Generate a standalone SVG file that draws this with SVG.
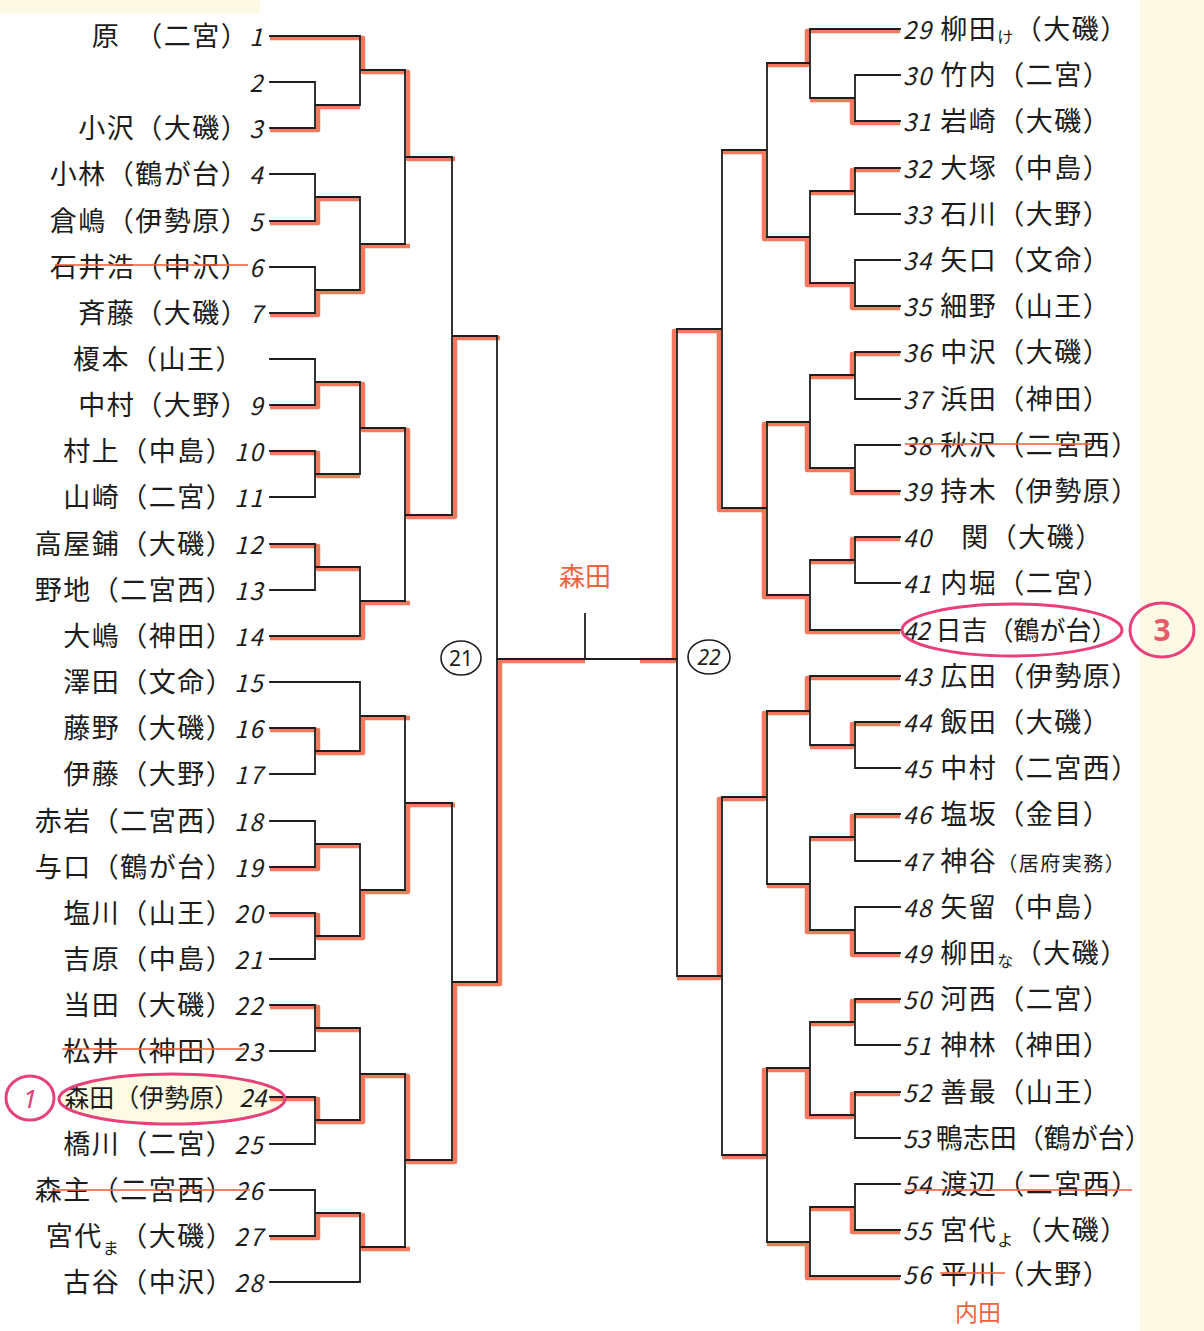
<svg xmlns="http://www.w3.org/2000/svg" width="1204" height="1331" viewBox="0 0 1204 1331">
<style>
.lb{font-family:"Noto Sans CJK JP","Noto Sans",sans-serif;font-size:27px;fill:#1c1c1c;letter-spacing:1.5px}
.le{text-anchor:end}
.n{font-style:italic;font-size:24px}
.sm{font-size:16px}
.blk{fill:none;stroke:#1e1e1e;stroke-width:1.8;stroke-linecap:square}
.red{fill:none;stroke:#f0623f;stroke-width:4.5;stroke-opacity:.85;stroke-linejoin:round}
.strike{stroke:#f0623f;stroke-width:2;stroke-opacity:.8}
.pink{fill:none;stroke:#e8407a;stroke-width:3}
.redtxt{font-family:"Noto Sans CJK JP","Noto Sans",sans-serif;fill:#f0623f}
</style>
<rect width="1204" height="1331" fill="#ffffff"/>
<rect x="1140" y="0" width="64" height="1331" fill="#fcf9e4"/>
<rect x="0" y="0" width="260" height="14" fill="#fcf9e4"/>

<ellipse cx="172" cy="1099" rx="113" ry="25" fill="#fdfbe3"/>

<g id="connectors">
<g id="red-paths">
<path class="red" d="M270,38 H363 V72 H408 V159 H455"/>
<path class="red" d="M270,130 H318 V107 H360"/>
<path class="red" d="M270,223 H318 V199 H360"/>
<path class="red" d="M270,315 H318 V292 H363 V246 H410"/>
<path class="red" d="M270,407 H318 V384 H363 V430 H408 V517 H455 V338 H500"/>
<path class="red" d="M270,453 H318 V476 H360"/>
<path class="red" d="M270,546 H318 V569 H360"/>
<path class="red" d="M270,638 H363 V603 H410"/>
<path class="red" d="M270,730 H318 V753 H363 V718 H410"/>
<path class="red" d="M270,869 H318 V846 H360"/>
<path class="red" d="M270,915 H318 V938 H363 V892 H408 V805 H455"/>
<path class="red" d="M270,1007 H318 V1030 H360"/>
<path class="red" d="M270,1099 H318 V1122 H363 V1076 H408 V1162 H455 V984 H500 V661 H585"/>
<path class="red" d="M270,1238 H318 V1215 H363 V1249 H410"/>

<path class="red" d="M900,31 H807 V65 H767"/>
<path class="red" d="M900,123 H852 V100 H810"/>
<path class="red" d="M900,170 H852 V193 H810"/>
<path class="red" d="M900,308 H852 V285 H807 V239 H764 V152 H722"/>
<path class="red" d="M900,354 H852 V377 H810"/>
<path class="red" d="M900,493 H852 V470 H807 V424 H764 V510"/>
<path class="red" d="M900,539 H852 V562 H810"/>
<path class="red" d="M900,632 H807 V597 H764 V510 H719 V331 H674 V661 H640"/>
<path class="red" d="M900,678 H807 V713 H764 V799 H719 V978 H677"/>
<path class="red" d="M900,724 H852 V747 H810"/>
<path class="red" d="M900,816 H852 V839 H810"/>
<path class="red" d="M900,955 H852 V932 H807 V886 H767"/>
<path class="red" d="M900,1001 H852 V1024 H810"/>
<path class="red" d="M900,1094 H852 V1117 H807 V1070 H764 V1157 H722"/>
<path class="red" d="M900,1232 H852 V1209 H810"/>
<path class="red" d="M900,1278 H807 V1244 H767"/>
</g>

<g id="left-bracket">
<path class="blk" d="M270,36 H360 M270,82 H315 M270,128 H315 M315,82 V128 M315,105 H360 M360,36 V105 M360,70 H405"/>
<path class="blk" d="M270,174 H315 M270,221 H315 M315,174 V221 M315,197 H360 M270,267 H315 M270,313 H315 M315,267 V313 M315,290 H360 M360,197 V290 M360,244 H405"/>
<path class="blk" d="M405,70 V244 M405,157 H452"/>
<path class="blk" d="M270,359 H315 M270,405 H315 M315,359 V405 M315,382 H360 M270,451 H315 M270,497 H315 M315,451 V497 M315,474 H360 M360,382 V474 M360,428 H405"/>
<path class="blk" d="M270,544 H315 M270,590 H315 M315,544 V590 M315,567 H360 M270,636 H360 M360,567 V636 M360,601 H405"/>
<path class="blk" d="M405,428 V601 M405,515 H452 M452,157 V515 M452,336 H497"/>
<path class="blk" d="M270,682 H360 M270,728 H315 M270,774 H315 M315,728 V774 M315,751 H360 M360,682 V751 M360,716 H405"/>
<path class="blk" d="M270,821 H315 M270,867 H315 M315,821 V867 M315,844 H360 M270,913 H315 M270,959 H315 M315,913 V959 M315,936 H360 M360,844 V936 M360,890 H405"/>
<path class="blk" d="M405,716 V890 M405,803 H452"/>
<path class="blk" d="M270,1005 H315 M270,1051 H315 M315,1005 V1051 M315,1028 H360 M270,1097 H315 M270,1144 H315 M315,1097 V1144 M315,1120 H360 M360,1028 V1120 M360,1074 H405"/>
<path class="blk" d="M270,1190 H315 M270,1236 H315 M315,1190 V1236 M315,1213 H360 M270,1282 H360 M360,1213 V1282 M360,1247 H405"/>
<path class="blk" d="M405,1074 V1247 M405,1160 H452 M452,803 V1160 M452,982 H497 M497,336 V982"/>
</g>

<g id="center">
<path class="blk" d="M497,659 H677 M585,614 V659"/>
</g>

<g id="right-bracket">
<path class="blk" d="M900,29 H810 M900,75 H855 M900,121 H855 M855,75 V121 M855,98 H810 M810,29 V98 M810,63 H767"/>
<path class="blk" d="M900,168 H855 M900,214 H855 M855,168 V214 M855,191 H810 M900,260 H855 M900,306 H855 M855,260 V306 M855,283 H810 M810,191 V283 M810,237 H767"/>
<path class="blk" d="M767,63 V237 M767,150 H722"/>
<path class="blk" d="M900,352 H855 M900,399 H855 M855,352 V399 M855,375 H810 M900,445 H855 M900,491 H855 M855,445 V491 M855,468 H810 M810,375 V468 M810,422 H767"/>
<path class="blk" d="M900,537 H855 M900,583 H855 M855,537 V583 M855,560 H810 M900,630 H810 M810,560 V630 M810,595 H767"/>
<path class="blk" d="M767,422 V595 M767,508 H722 M722,150 V508 M722,329 H677"/>
<path class="blk" d="M900,676 H810 M900,722 H855 M900,768 H855 M855,722 V768 M855,745 H810 M810,676 V745 M810,711 H767"/>
<path class="blk" d="M900,814 H855 M900,861 H855 M855,814 V861 M855,837 H810 M900,907 H855 M900,953 H855 M855,907 V953 M855,930 H810 M810,837 V930 M810,884 H767"/>
<path class="blk" d="M767,711 V884 M767,797 H722"/>
<path class="blk" d="M900,999 H855 M900,1045 H855 M855,999 V1045 M855,1022 H810 M900,1092 H855 M900,1138 H855 M855,1092 V1138 M855,1115 H810 M810,1022 V1115 M810,1068 H767"/>
<path class="blk" d="M900,1184 H855 M900,1230 H855 M855,1184 V1230 M855,1207 H810 M900,1276 H810 M810,1207 V1276 M810,1242 H767"/>
<path class="blk" d="M767,1068 V1242 M767,1155 H722 M722,797 V1155 M722,976 H677 M677,329 V976"/>
</g>
</g>

<g id="round-labels">
<g id="r21"><ellipse cx="461" cy="658" rx="20" ry="17" fill="none" stroke="#1e1e1e" stroke-width="1.6"/><text x="461" y="666" text-anchor="middle" font-family="Noto Sans, sans-serif" font-size="21" fill="#1e1e1e">21</text></g>
<g id="r22"><ellipse cx="709" cy="657" rx="21" ry="17" fill="none" stroke="#1e1e1e" stroke-width="1.6"/><text x="709" y="665" text-anchor="middle" font-family="Noto Sans, sans-serif" font-size="21" font-style="italic" fill="#1e1e1e">22</text></g>
<g id="winner"><text class="redtxt" x="585" y="586" text-anchor="middle" font-size="26">森田</text></g>
<g id="sub56"><text class="redtxt" x="978" y="1321" text-anchor="middle" font-size="23">内田</text></g>
</g>

<g id="left-entries">
<g id="e1"><text class="lb le" x="264" y="46">原　（二宮）<tspan class="n">1</tspan></text></g>
<g id="e2"><text class="lb le" x="264" y="92"><tspan class="n">2</tspan></text></g>
<g id="e3"><text class="lb le" x="264" y="138">小沢（大磯）<tspan class="n">3</tspan></text></g>
<g id="e4"><text class="lb le" x="264" y="184">小林（鶴が台）<tspan class="n">4</tspan></text></g>
<g id="e5"><text class="lb le" x="264" y="231">倉嶋（伊勢原）<tspan class="n">5</tspan></text></g>
<g id="e6"><text class="lb le" x="264" y="277">石井浩（中沢）<tspan class="n">6</tspan></text></g>
<g id="e7"><text class="lb le" x="264" y="323">斉藤（大磯）<tspan class="n">7</tspan></text></g>
<g id="e8"><text class="lb le" x="244" y="369">榎本（山王）</text></g>
<g id="e9"><text class="lb le" x="264" y="415">中村（大野）<tspan class="n">9</tspan></text></g>
<g id="e10"><text class="lb le" x="264" y="461">村上（中島）<tspan class="n">10</tspan></text></g>
<g id="e11"><text class="lb le" x="264" y="507">山崎（二宮）<tspan class="n">11</tspan></text></g>
<g id="e12"><text class="lb le" x="264" y="554">高屋鋪（大磯）<tspan class="n">12</tspan></text></g>
<g id="e13"><text class="lb le" x="264" y="600">野地（二宮西）<tspan class="n">13</tspan></text></g>
<g id="e14"><text class="lb le" x="264" y="646">大嶋（神田）<tspan class="n">14</tspan></text></g>
<g id="e15"><text class="lb le" x="264" y="692">澤田（文命）<tspan class="n">15</tspan></text></g>
<g id="e16"><text class="lb le" x="264" y="738">藤野（大磯）<tspan class="n">16</tspan></text></g>
<g id="e17"><text class="lb le" x="264" y="784">伊藤（大野）<tspan class="n">17</tspan></text></g>
<g id="e18"><text class="lb le" x="264" y="831">赤岩（二宮西）<tspan class="n">18</tspan></text></g>
<g id="e19"><text class="lb le" x="264" y="877">与口（鶴が台）<tspan class="n">19</tspan></text></g>
<g id="e20"><text class="lb le" x="264" y="923">塩川（山王）<tspan class="n">20</tspan></text></g>
<g id="e21"><text class="lb le" x="264" y="969">吉原（中島）<tspan class="n">21</tspan></text></g>
<g id="e22"><text class="lb le" x="264" y="1015">当田（大磯）<tspan class="n">22</tspan></text></g>
<g id="e23"><text class="lb le" x="264" y="1061">松井（神田）<tspan class="n">23</tspan></text></g>
<g id="e24"><text class="lb le" x="266" y="1107" style="font-size:25px;letter-spacing:0">森田（伊勢原）<tspan class="n">24</tspan></text></g>
<g id="e25"><text class="lb le" x="264" y="1154">橋川（二宮）<tspan class="n">25</tspan></text></g>
<g id="e26"><text class="lb le" x="264" y="1200">森主（二宮西）<tspan class="n">26</tspan></text></g>
<g id="e27"><text class="lb le" x="264" y="1246">宮代<tspan class="sm" dy="8">ま</tspan><tspan dy="-8">（大磯）</tspan><tspan class="n">27</tspan></text></g>
<g id="e28"><text class="lb le" x="264" y="1292">古谷（中沢）<tspan class="n">28</tspan></text></g>
</g>

<g id="right-entries">
<g id="e29"><text class="lb" x="903" y="39"><tspan class="n">29</tspan> 柳田<tspan class="sm" dy="4">け</tspan><tspan dy="-4">（大磯）</tspan></text></g>
<g id="e30"><text class="lb" x="903" y="85"><tspan class="n">30</tspan> 竹内（二宮）</text></g>
<g id="e31"><text class="lb" x="903" y="131"><tspan class="n">31</tspan> 岩崎（大磯）</text></g>
<g id="e32"><text class="lb" x="903" y="178"><tspan class="n">32</tspan> 大塚（中島）</text></g>
<g id="e33"><text class="lb" x="903" y="224"><tspan class="n">33</tspan> 石川（大野）</text></g>
<g id="e34"><text class="lb" x="903" y="270"><tspan class="n">34</tspan> 矢口（文命）</text></g>
<g id="e35"><text class="lb" x="903" y="316"><tspan class="n">35</tspan> 細野（山王）</text></g>
<g id="e36"><text class="lb" x="903" y="362"><tspan class="n">36</tspan> 中沢（大磯）</text></g>
<g id="e37"><text class="lb" x="903" y="409"><tspan class="n">37</tspan> 浜田（神田）</text></g>
<g id="e38"><text class="lb" x="903" y="455"><tspan class="n">38</tspan> 秋沢（二宮西）</text></g>
<g id="e39"><text class="lb" x="903" y="501"><tspan class="n">39</tspan> 持木（伊勢原）</text></g>
<g id="e40"><text class="lb" x="903" y="547"><tspan class="n">40</tspan>　関（大磯）</text></g>
<g id="e41"><text class="lb" x="903" y="593"><tspan class="n">41</tspan> 内堀（二宮）</text></g>
<g id="e42"><text class="lb" x="903" y="640" style="font-size:26px;letter-spacing:0"><tspan class="n">42</tspan> 日吉（鶴が台）</text></g>
<g id="e43"><text class="lb" x="903" y="686"><tspan class="n">43</tspan> 広田（伊勢原）</text></g>
<g id="e44"><text class="lb" x="903" y="732"><tspan class="n">44</tspan> 飯田（大磯）</text></g>
<g id="e45"><text class="lb" x="903" y="778"><tspan class="n">45</tspan> 中村（二宮西）</text></g>
<g id="e46"><text class="lb" x="903" y="824"><tspan class="n">46</tspan> 塩坂（金目）</text></g>
<g id="e47"><text class="lb" x="903" y="871"><tspan class="n">47</tspan> 神谷<tspan style="font-size:20px">（居府実務）</tspan></text></g>
<g id="e48"><text class="lb" x="903" y="917"><tspan class="n">48</tspan> 矢留（中島）</text></g>
<g id="e49"><text class="lb" x="903" y="963"><tspan class="n">49</tspan> 柳田<tspan class="sm" dy="4">な</tspan><tspan dy="-4">（大磯）</tspan></text></g>
<g id="e50"><text class="lb" x="903" y="1009"><tspan class="n">50</tspan> 河西（二宮）</text></g>
<g id="e51"><text class="lb" x="903" y="1055"><tspan class="n">51</tspan> 神林（神田）</text></g>
<g id="e52"><text class="lb" x="903" y="1102"><tspan class="n">52</tspan> 善最（山王）</text></g>
<g id="e53"><text class="lb" x="903" y="1148" style="letter-spacing:0"><tspan class="n">53</tspan> 鴨志田（鶴が台）</text></g>
<g id="e54"><text class="lb" x="903" y="1194"><tspan class="n">54</tspan> 渡辺（二宮西）</text></g>
<g id="e55"><text class="lb" x="903" y="1240"><tspan class="n">55</tspan> 宮代<tspan class="sm" dy="6">よ</tspan><tspan dy="-6">（大磯）</tspan></text></g>
<g id="e56"><text class="lb" x="903" y="1284"><tspan class="n">56</tspan> 平川（大野）</text></g>
</g>

<g id="strikes">
<line class="strike" x1="55" y1="265" x2="248" y2="265"/>
<line class="strike" x1="62" y1="1049" x2="245" y2="1049"/>
<line class="strike" x1="52" y1="1190" x2="250" y2="1190"/>
<line class="strike" x1="905" y1="444" x2="1092" y2="444"/>
<line class="strike" x1="905" y1="1190" x2="1132" y2="1190"/>
<line class="strike" x1="940" y1="1273" x2="1005" y2="1273"/>
</g>

<g id="marks">
<ellipse class="pink" cx="172" cy="1099" rx="113" ry="25"/>
<ellipse class="pink" cx="30" cy="1098" rx="24" ry="22"/>
<text x="30" y="1108" text-anchor="middle" font-family="Noto Sans, sans-serif" font-size="26" font-style="italic" fill="#e8407a">1</text>
<ellipse class="pink" cx="1012" cy="630" rx="110" ry="26"/>
<ellipse class="pink" cx="1162" cy="630" rx="32" ry="27" stroke-width="3.5"/>
<text x="1162" y="641" text-anchor="middle" font-family="Noto Sans, sans-serif" font-size="30" font-weight="bold" fill="#e85a6a">3</text>
</g>
</svg>
